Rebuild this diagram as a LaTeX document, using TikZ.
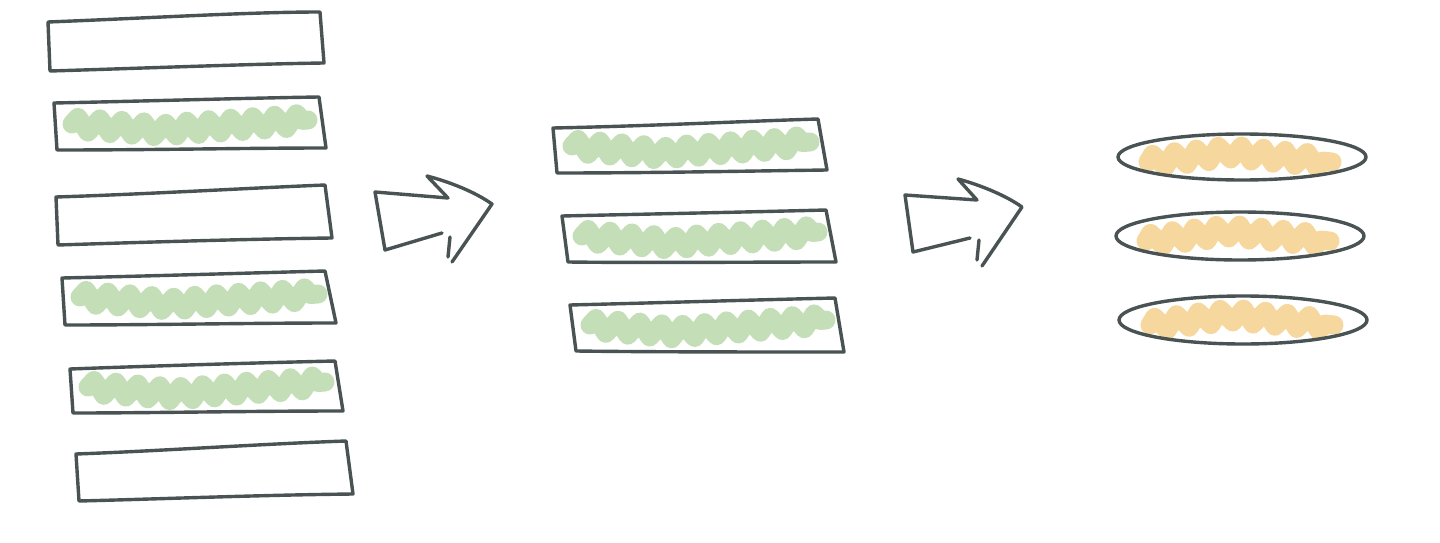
\documentclass[tikz,border=0pt]{standalone}
\usetikzlibrary{decorations.pathmorphing}
\definecolor{ink}{HTML}{4A5353}
\definecolor{leaf}{HTML}{C4DFB8}
\definecolor{sand}{HTML}{F6D79D}
\tikzset{
  sketch/.style={draw=ink, line width=3.4pt, line join=round, line cap=round},
  scrib/.style={line width=19pt, line cap=round, line join=round,
    decorate, decoration={zigzag, segment length=22pt, amplitude=7pt}},
  greenscrib/.style={scrib, draw=leaf},
  sandscrib/.style={scrib, draw=sand},
}
\begin{document}
\begin{tikzpicture}[x=1pt,y=-1pt]
\useasboundingbox (0,0) rectangle (1440,543);
% left column
\draw[sketch] (48,22) .. controls (150,18) and (250,12) .. (320,12) -- (324,63) .. controls (250,64) and (150,68) .. (50,71) -- cycle;
\draw[greenscrib] (72,124) -- (160,130) -- (308,120);
\draw[sketch] (54,103) .. controls (150,101) and (250,98) .. (319,97) -- (326,148) .. controls (250,148) and (150,150) .. (57,150) -- cycle;
\draw[sketch] (56,197) .. controls (150,194) and (250,188) .. (325,185) -- (332,238) .. controls (250,239) and (150,242) .. (58,245) -- cycle;
\draw[greenscrib] (80,297) -- (170,304) -- (318,294);
\draw[sketch] (62,278) .. controls (150,276) and (250,273) .. (325,271) -- (336,323) .. controls (250,323) and (150,325) .. (65,325) -- cycle;
\draw[greenscrib] (88,387) -- (175,394) -- (325,382);
\draw[sketch] (70,369) .. controls (150,366) and (250,363) .. (335,361) -- (343,411) .. controls (250,411) and (150,413) .. (73,413) -- cycle;
\draw[sketch] (76,454) .. controls (160,451) and (260,444) .. (346,441) -- (353,494) .. controls (260,495) and (160,499) .. (79,501) -- cycle;
% arrow 1
\draw[sketch] (442,233) -- (385,250) -- (375,192) -- (448,198) -- (427,176) .. controls (450,182) and (475,192) .. (492,204) -- (452,262);
\draw[sketch] (450,237) -- (448,257);
% middle column
\draw[greenscrib] (572,146) -- (660,153) -- (810,142);
\draw[sketch] (553,128) .. controls (650,126) and (750,121) .. (818,119) -- (827,170) .. controls (750,171) and (650,173) .. (557,173) -- cycle;
\draw[greenscrib] (582,236) -- (670,243) -- (818,232);
\draw[sketch] (562,216) .. controls (650,214) and (750,212) .. (826,210) -- (836,262) .. controls (750,262) and (650,263) .. (568,262) -- cycle;
\draw[greenscrib] (590,325) -- (675,332) -- (826,320);
\draw[sketch] (570,305) .. controls (650,303) and (750,300) .. (835,298) -- (844,352) .. controls (750,352) and (650,352) .. (576,351) -- cycle;
% arrow 2
\draw[sketch] (970,238) -- (913,252) -- (905,195) -- (977,200) -- (958,179) .. controls (980,185) and (1005,195) .. (1022,207) -- (982,266);
\draw[sketch] (979,240) -- (977,260);
% right column
\draw[sandscrib] (1148,162) -- (1230,152) -- (1332,162);
\draw[sketch] (1242,157) ellipse [x radius=124, y radius=23];
\draw[sandscrib] (1146,241) -- (1228,231) -- (1330,241);
\draw[sketch] (1240,236) ellipse [x radius=124, y radius=24];
\draw[sandscrib] (1150,325) -- (1232,315) -- (1334,325);
\draw[sketch] (1243,320) ellipse [x radius=124, y radius=24];
\end{tikzpicture}
\end{document}
